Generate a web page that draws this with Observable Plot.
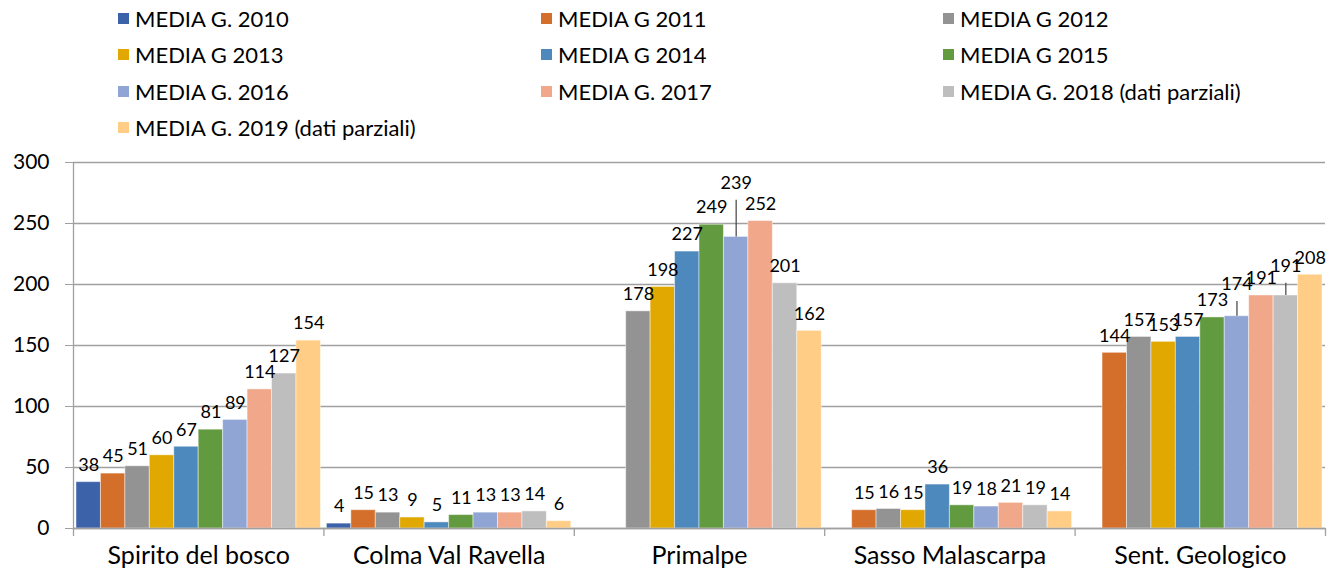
<!DOCTYPE html>
<html><head><meta charset="utf-8">
<script src="https://cdn.jsdelivr.net/npm/d3@7"></script>
<script src="https://cdn.jsdelivr.net/npm/@observablehq/plot@0.6"></script>
<style>
body{margin:0;background:#fff;font-family:Lato,"Open Sans",sans-serif;}
#legend{position:relative;height:145px;width:1335px;display:grid;grid-template-columns:423px 402px 392px;grid-auto-rows:36.5px;padding-left:118px;box-sizing:border-box;padding-top:0px;}
.item{display:flex;align-items:center;font-size:22px;color:#000;white-space:nowrap;}
.sw{width:11px;height:11px;margin-right:6px;flex:none;}
#chart svg{display:block;}
</style></head><body>
<div id="legend"></div><div id="chart"></div>
<script>
const categories = ["Spirito del bosco","Colma Val Ravella","Primalpe","Sasso Malascarpa","Sent. Geologico"];
const seriesNames = ["MEDIA G. 2010","MEDIA G 2011","MEDIA G 2012","MEDIA G 2013","MEDIA G 2014","MEDIA G 2015","MEDIA G. 2016","MEDIA G. 2017","MEDIA G. 2018 (dati parziali)","MEDIA G. 2019 (dati parziali)"];
const v2010 = [38, 4, null, null, null];
const v2011 = [45, 15, null, 15, 144];
const v2012 = [51, 13, 178, 16, 157];
const v2013 = [60, 9, 198, 15, 153];
const v2014 = [67, 5, 227, 36, 157];
const v2015 = [81, 11, 249, 19, 173];
const v2016 = [89, 13, 239, 18, 174];
const v2017 = [114, 13, 252, 21, 191];
const v2018 = [127, 14, 201, 19, 191];
const v2019 = [154, 6, 162, 14, 208];
const yTicks = [0, 50, 100, 150, 200, 250, 300];

const seriesValues = [v2010, v2011, v2012, v2013, v2014, v2015, v2016, v2017, v2018, v2019];
const colors = ["#3c63aa","#d46e2b","#939393","#e0a800","#4e89bd","#629a40","#91a5d5","#f0a78a","#bebebe","#ffcd85"];
// labels Excel moved up with a leader line (category index, series index, lift in value units)
const leaders = [{ci: 2, yi: 6, lift: 30}, {ci: 4, yi: 6, lift: 12}, {ci: 4, yi: 8, lift: 10}];

// legend
const leg = document.getElementById("legend");
seriesNames.forEach((n, i) => {
  const d = document.createElement("div"); d.className = "item";
  const s = document.createElement("span"); s.className = "sw"; s.style.background = colors[i];
  d.appendChild(s); d.appendChild(document.createTextNode(n)); leg.appendChild(d);
});

const rows = [];
seriesValues.forEach((arr, yi) => arr.forEach((v, ci) => {
  if (v != null) {
    const L = leaders.find(l => l.ci === ci && l.yi === yi);
    rows.push({cat: categories[ci], ci, series: seriesNames[yi], yi, value: v, lift: L ? L.lift : 0});
  }
}));
const pad = 0.012, bw = (1 - 2 * pad) / 10;
const x1 = d => d.ci + pad + d.yi * bw, x2 = d => x1(d) + bw, xc = d => x1(d) + bw / 2;
const gray = "#a0a0a0";

const chart = Plot.plot({
  width: 1335, height: 442,
  marginTop: 17, marginBottom: 59, marginLeft: 73, marginRight: 10,
  style: {fontFamily: "Lato, 'Open Sans', sans-serif", background: "#fff", overflow: "visible"},
  x: {domain: [0, 5], axis: null},
  y: {domain: [0, 300], axis: null},
  color: {domain: seriesNames, range: colors},
  marks: [
    Plot.ruleY(yTicks, {stroke: gray, strokeWidth: 1.3}),
    Plot.axisY(yTicks, {tickSize: 8, tickPadding: 16, stroke: gray, strokeOpacity: 1, fontSize: 21, fill: "#000", label: null}),
    Plot.rectY(rows, {x1, x2, y1: 0, y2: "value", fill: "series", stroke: "white", strokeOpacity: 0.45, strokeWidth: 1}),
    Plot.ruleY([0], {stroke: gray, strokeWidth: 1.3}),
    Plot.ruleX([0], {y1: -6.5, y2: 300, stroke: gray, strokeWidth: 1.3}),
    Plot.ruleX(d3.range(1, 6), {y1: -6.5, y2: 0, stroke: gray, strokeWidth: 1.3}),
    Plot.ruleX(rows.filter(d => d.lift > 0), {x: xc, y1: "value", y2: d => d.value + d.lift, stroke: "#404040", strokeWidth: 1.2}),
    Plot.text(rows, {x: xc, y: d => d.value + d.lift, text: d => String(d.value), dy: -17, fontSize: 18, fill: "#000"}),
    Plot.text(categories, {x: (d, i) => i + 0.5, frameAnchor: "bottom", dy: 35, text: d => d, fontSize: 25, fill: "#000"})
  ]
});
document.getElementById("chart").appendChild(chart);
</script>
</body></html>
